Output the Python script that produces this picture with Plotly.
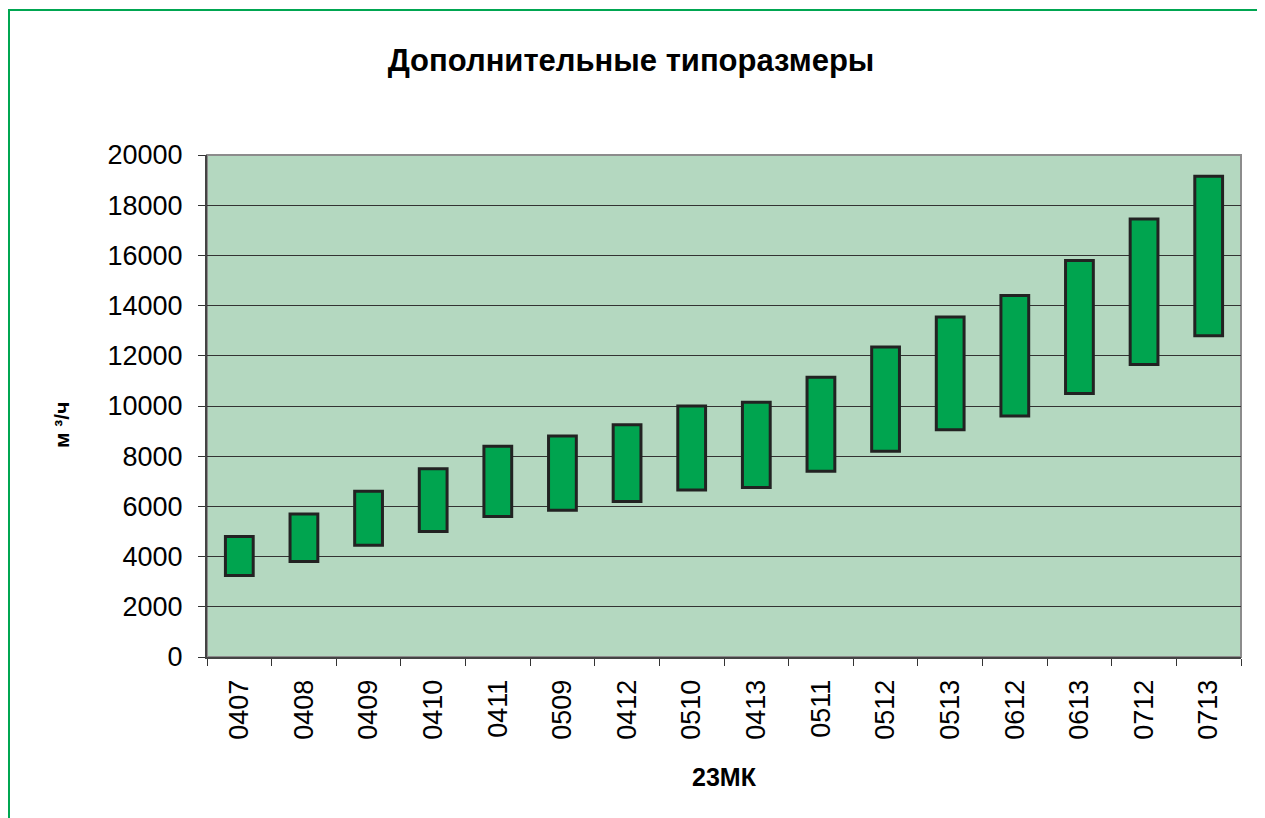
import plotly.graph_objects as go

categories = ["0407", "0408", "0409", "0410", "0411", "0509", "0412", "0510",
              "0413", "0511", "0512", "0513", "0612", "0613", "0712", "0713"]
low_values = [3250, 3800, 4450, 5000, 5600, 5850, 6200, 6650,
              6750, 7400, 8200, 9050, 9600, 10500, 11650, 12800]
high_values = [4800, 5700, 6600, 7500, 8400, 8800, 9250, 10000,
               10150, 11150, 12350, 13550, 14400, 15800, 17450, 19150]
y_tick_values = list(range(0, 20001, 2000))
y_tick_labels = [str(v) for v in y_tick_values]

spans = [h - l for h, l in zip(high_values, low_values)]

fig = go.Figure()
fig.add_trace(go.Bar(
    x=categories, y=spans, base=low_values, width=0.43,
    marker=dict(color="#00A44F", line=dict(color="#222222", width=3)),
    hoverinfo="x+y",
))

OFF = 8  # page body margin
W, H = 1265 - OFF, 818 - OFF
L, T = 207 - OFF, 155 - OFF
R = W - (1241 - OFF)
B = H - (657 - OFF)
pw, ph = W - L - R, H - T - B

def px_x(page_x):
    return (page_x - OFF - L) / pw

def px_y(page_y):
    return (H - B - (page_y - OFF)) / ph

fig.update_layout(
    width=W, height=H,
    margin=dict(l=L, r=R, t=T, b=B),
    paper_bgcolor="white", plot_bgcolor="#B4D8C0",
    showlegend=False, bargap=0.52,
    font=dict(family="Liberation Sans, Arial, sans-serif", color="black"),
    title=dict(text="<b>Дополнительные типоразмеры</b>", x=px_x(631), xref="paper",
               xanchor="center", y=1 - (60 - OFF) / H, yanchor="middle",
               font=dict(size=31, color="black")),
    xaxis=dict(
        type="category", tickangle=-90, tickson="boundaries",
        ticks="outside", ticklen=7, tickcolor="#333", tickwidth=1,
        showline=True, linecolor="#444", linewidth=2,
        tickfont=dict(size=27), ticklabelstandoff=10,
        title=dict(text="<b>23МК</b>", font=dict(size=25), standoff=30),
        showgrid=False,
    ),
    yaxis=dict(
        range=[0, 20000], tickvals=y_tick_values, ticktext=y_tick_labels,
        ticks="outside", ticklen=7, tickcolor="#333", tickwidth=1,
        showline=True, linecolor="#444", linewidth=2,
        tickfont=dict(size=27), ticklabelstandoff=10,
        showgrid=True, gridcolor="#333", gridwidth=1, zeroline=False,
    ),
)

fig.add_annotation(text="<b>м ³/ч</b>", textangle=-90, showarrow=False,
                   xref="paper", yref="paper", x=px_x(61), y=px_y(425),
                   xanchor="center", yanchor="middle", font=dict(size=21))

# plot area border (top/right gray)
fig.add_shape(type="rect", xref="paper", yref="paper", x0=0, x1=1, y0=0, y1=1,
              line=dict(color="#8C8C8C", width=2), layer="below")
# outer green frame
fig.add_shape(type="rect", xref="paper", yref="paper",
              x0=px_x(9), x1=px_x(1262),
              y0=px_y(840), y1=px_y(10),
              line=dict(color="#00A651", width=2), layer="above")

fig.write_html("out.html")
